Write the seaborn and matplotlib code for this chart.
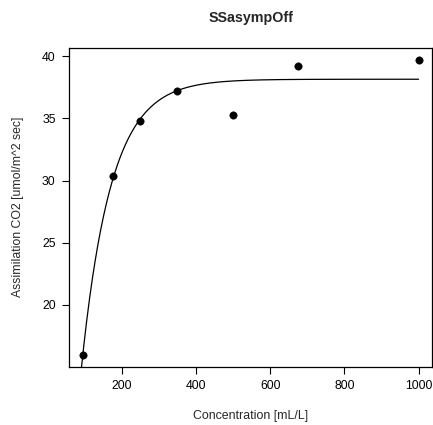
import numpy as np
import pandas as pd
import matplotlib
matplotlib.use("Agg")
import matplotlib.pyplot as plt
import seaborn as sns

# CO2 data, plant Qn1
conc = [95, 175, 250, 350, 500, 675, 1000]
uptake = [16.0, 30.4, 34.8, 37.2, 35.3, 39.2, 39.7]

# SSasympOff fit parameters
asym = 38.1398
lrc = -4.3806
c0 = 51.2232

sns.set_style("ticks")
plt.rcParams["font.family"] = ["Liberation Sans", "DejaVu Sans"]

pts = pd.DataFrame({"conc": conc, "uptake": uptake})
xx = np.linspace(60, 1000, 500)
fit = pd.DataFrame({"conc": xx, "uptake": asym * (1 - np.exp(-np.exp(lrc) * (xx - c0)))})

fig = plt.figure(figsize=(4.33, 4.25), dpi=100)
ax = fig.add_axes([0.1605, 0.1376, 0.8372, 0.7494])

sns.lineplot(data=fit, x="conc", y="uptake", ax=ax, color="black", linewidth=0.9)
sns.scatterplot(data=pts, x="conc", y="uptake", ax=ax, color="black", s=28,
                edgecolor="black", zorder=3)

ax.set_xlim(58.8, 1036.2)
ax.set_ylim(15.052, 40.648)
ax.set_xticks([200, 400, 600, 800, 1000])
ax.set_yticks([20, 25, 30, 35, 40])
ax.tick_params(direction="out", length=5, width=0.8, labelsize=8.8, pad=5, colors="black")
for s in ax.spines.values():
    s.set_visible(True)
    s.set_linewidth(0.9)
    s.set_color("black")

ax.set_xlabel("Concentration [mL/L]", fontsize=8.9, labelpad=13)
ax.set_ylabel("Assimilation CO2 [umol/m^2 sec]", fontsize=8.8, labelpad=13)
ax.set_title("SSasympOff", fontsize=10.3, fontweight="bold", pad=19)

fig.savefig("out.png", dpi=100)
